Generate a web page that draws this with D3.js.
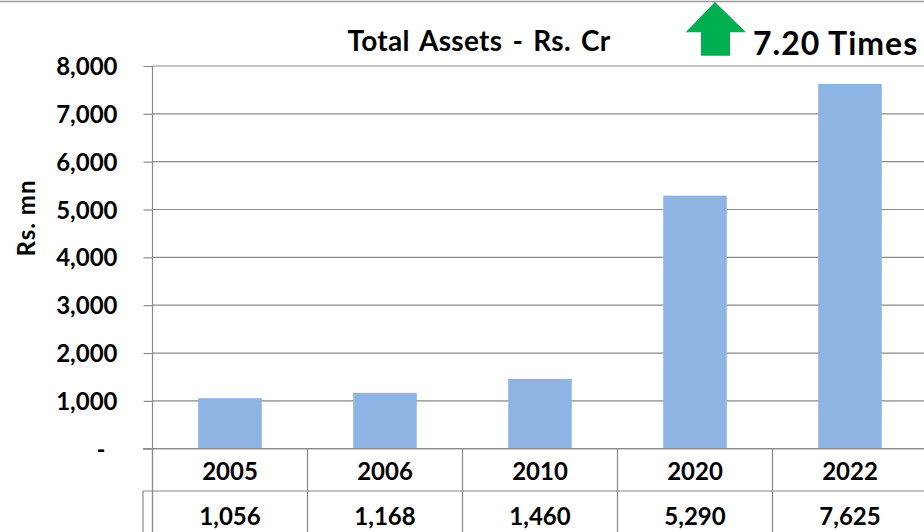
<!DOCTYPE html>
<html><head><meta charset="utf-8">
<script src="https://cdn.jsdelivr.net/npm/d3@7"></script>
<style>
html,body{margin:0;padding:0;background:#fff;}
svg{display:block;font-family:Lato,"Open Sans",sans-serif;font-weight:bold;}
</style></head>
<body>
<svg id="c" width="924" height="532"></svg>
<script>
const categories = ["2005","2006","2010","2020","2022"];
const values = [1056,1168,1460,5290,7625];
const yTicks = [0,1000,2000,3000,4000,5000,6000,7000,8000];
const title = "Total Assets - Rs. Cr";
const growthLabel = "7.20 Times";
const yTitle = "Rs. mn";

const svg = d3.select("#c");
const W = 924, H = 532;
const plot = {left:152.5, right:927.5, top:66, bottom:448.7};
const gridColor = "#8a8a8a";

// top border
svg.append("line").attr("x1",0).attr("x2",W).attr("y1",1.5).attr("y2",1.5)
  .attr("stroke","#9a9a9a").attr("stroke-width",1.5);

const x = d3.scaleBand().domain(categories).range([plot.left, plot.right])
  .paddingInner(0.59).paddingOuter(0.295);
const y = d3.scaleLinear().domain([0,8000]).range([plot.bottom, plot.top]);

// gridlines
svg.append("g").selectAll("line").data(yTicks).join("line")
  .attr("x1",plot.left).attr("x2",W).attr("y1",d=>y(d)).attr("y2",d=>y(d))
  .attr("stroke",gridColor).attr("stroke-width",1.2);

// y axis
const yAxis = d3.axisLeft(y).tickValues(yTicks).tickSize(9).tickPadding(26)
  .tickFormat(d=> d===0 ? "-" : d3.format(",")(d));
const ga = svg.append("g").attr("transform",`translate(${plot.left},0)`).call(yAxis);
ga.select(".domain").attr("stroke",gridColor).attr("stroke-width",1.2).attr("d",`M0,${plot.top}V${H}`);
ga.selectAll(".tick line").attr("stroke",gridColor).attr("stroke-width",1.2);
ga.selectAll(".tick text").attr("fill","#000").style("font-size","24px")
  .style("font-family","Lato").style("font-weight","bold").attr("dy","0.36em");
ga.selectAll(".tick text").filter(d=>d===0).attr("dx","-12");

// bars
svg.append("g").selectAll("rect").data(values).join("rect")
  .attr("x",(d,i)=>x(categories[i])).attr("width",x.bandwidth())
  .attr("y",d=>y(d)).attr("height",d=>y(0)-y(d)).attr("fill","#8eb4e3");

// data table
const step = x.step();
const rowTop = plot.bottom, rowMid = 491, rowBot = H+5;
const tg = svg.append("g").attr("stroke",gridColor).attr("stroke-width",1.2);
tg.append("line").attr("x1",143).attr("x2",W).attr("y1",rowTop).attr("y2",rowTop);
tg.append("line").attr("x1",143).attr("x2",W).attr("y1",rowMid).attr("y2",rowMid);
tg.append("line").attr("x1",143).attr("x2",143).attr("y1",rowMid).attr("y2",rowBot);
tg.selectAll(".v").data(categories).join("line")
  .attr("x1",d=>x(d)-x.paddingOuter()*step).attr("x2",d=>x(d)-x.paddingOuter()*step)
  .attr("y1",rowTop).attr("y2",rowBot);

svg.append("g").selectAll("text").data(categories).join("text")
  .attr("x",d=>x(d)+x.bandwidth()/2).attr("y",471).attr("dy","0.36em")
  .attr("text-anchor","middle").style("font-size","24px").text(d=>d);
svg.append("g").selectAll("text").data(values).join("text")
  .attr("x",(d,i)=>x(categories[i])+x.bandwidth()/2).attr("y",516).attr("dy","0.36em")
  .attr("text-anchor","middle").style("font-size","24px").text(d=>d3.format(",")(d));

// title
svg.append("text").attr("x",479).attr("y",51).attr("text-anchor","middle")
  .style("font-size","28px").style("word-spacing","3px").style("letter-spacing","0.3px").text(title);

// y title
svg.append("text").attr("transform","translate(35,218) rotate(-90)")
  .attr("text-anchor","middle").style("font-size","24px").style("letter-spacing","1px").text(yTitle);

// green arrow
svg.append("path").attr("d","M715,2 L746,32.3 L730,32.3 L730,55.7 L701,55.7 L701,32.3 L685.7,32.3 Z")
  .attr("fill","#00b050");
svg.append("text").attr("x",753).attr("y",55).style("font-size","32px").style("letter-spacing","1px").text(growthLabel);
</script>
</body></html>
